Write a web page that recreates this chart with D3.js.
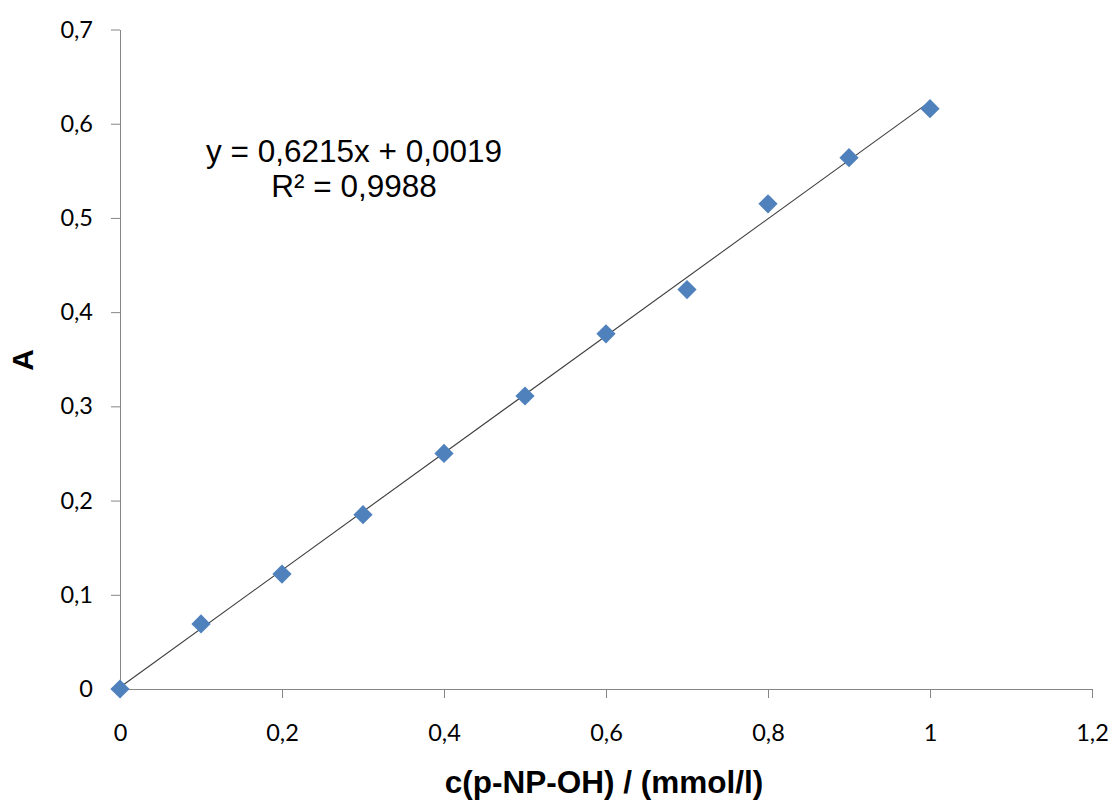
<!DOCTYPE html>
<html>

<head>
    <meta charset="UTF-8">
    <title>Kalibrierkurve p-NP-OH</title>
    <style>
        body {
            margin: 0;
            background-color: white;
        }
    </style>
</head>

<body>
    <svg></svg>

    <script src="https://d3js.org/d3.v7.min.js"></script>

    <script>

        let width = 1110, height = 800;

        // data
        let conc = [0, 0.1, 0.2, 0.3, 0.4, 0.5, 0.6, 0.7, 0.8, 0.9, 1.0];
        let absorb = [0, 0.069, 0.122, 0.185, 0.250, 0.311, 0.377, 0.424, 0.515, 0.564, 0.616];
        let xTicks = [0, 0.2, 0.4, 0.6, 0.8, 1, 1.2];
        let yTicks = [0, 0.1, 0.2, 0.3, 0.4, 0.5, 0.6, 0.7];
        let slope = 0.6215, intercept = 0.0019;
        let eqLines = ["y = 0,6215x + 0,0019", "R² = 0,9988"];

        let svg = d3.select("svg")
            .attr("width", width)
            .attr("height", height);

        let x = d3.scaleLinear().domain([0, 1.2]).range([120, 1092]);
        let y = d3.scaleLinear().domain([0, 0.7]).range([689, 29.5]);

        // comma as decimal sign
        let de = d3.formatLocale({ decimal: ",", thousands: ".", grouping: [3], currency: ["", " €"] });
        let fmt = de.format(".1~f");

        // axes
        let xAxis = svg.append("g")
            .attr("transform", "translate(0," + y(0) + ")")
            .call(d3.axisBottom(x).tickValues(xTicks).tickFormat(fmt).tickSize(9).tickPadding(26).tickSizeOuter(0));

        let yAxis = svg.append("g")
            .attr("transform", "translate(" + x(0) + ",0)")
            .call(d3.axisLeft(y).tickValues(yTicks).tickFormat(fmt).tickSize(9).tickPadding(18).tickSizeOuter(0));

        [xAxis, yAxis].forEach(a => {
            a.select(".domain").attr("stroke", "#868686").attr("stroke-width", 1);
            a.selectAll(".tick line").attr("stroke", "#868686");
            a.selectAll(".tick text")
                .attr("fill", "#000")
                .style("font-family", "Lato, 'Open Sans', sans-serif")
                .style("font-size", "23.5px");
        });

        // trendline
        svg.append("line")
            .attr("x1", x(0))
            .attr("y1", y(intercept))
            .attr("x2", x(1))
            .attr("y2", y(slope + intercept))
            .attr("stroke", "#3c3c3c")
            .attr("stroke-width", 1.1);

        // points
        let diamond = d3.symbol().type(d3.symbolSquare).size(185);
        svg.append("g")
            .selectAll("path")
            .data(conc)
            .enter()
            .append("path")
            .attr("d", diamond)
            .attr("transform", (d, i) => "translate(" + x(d) + "," + y(absorb[i]) + ") rotate(45)")
            .attr("fill", "#4f81bd");

        // equation
        svg.append("g")
            .selectAll("text")
            .data(eqLines)
            .enter()
            .append("text")
            .attr("x", 354)
            .attr("y", (d, i) => 162 + i * 35)
            .attr("text-anchor", "middle")
            .style("font-family", "'Liberation Sans', Arial, sans-serif")
            .style("font-size", "31.5px")
            .text(d => d);

        // axis titles
        svg.append("text")
            .attr("x", 604)
            .attr("y", 793)
            .attr("text-anchor", "middle")
            .style("font-family", "'Liberation Sans', Arial, sans-serif")
            .style("font-size", "31.5px")
            .style("font-weight", "bold")
            .text("c(p-NP-OH) / (mmol/l)");

        svg.append("text")
            .attr("transform", "translate(33,360) rotate(-90)")
            .attr("text-anchor", "middle")
            .style("font-family", "'Liberation Sans', Arial, sans-serif")
            .style("font-size", "30px")
            .style("font-weight", "bold")
            .text("A");

    </script>

</body>

</html>
